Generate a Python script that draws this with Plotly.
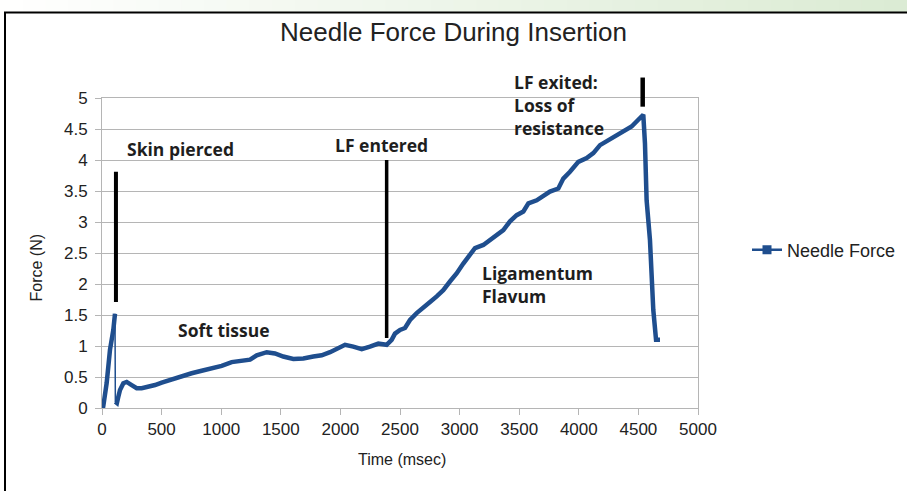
import plotly.graph_objects as go

# ---------------- data ----------------
time_ms = [0, 10, 39, 67, 95, 109, 112, 125, 137, 151, 179, 207, 249, 291, 333, 388, 445, 501,
           585, 669, 752, 836, 920, 1004, 1088, 1172, 1242, 1298, 1340, 1382, 1451, 1521, 1605,
           1689, 1773, 1843, 1913, 1969, 2039, 2108, 2179, 2248, 2318, 2388, 2430, 2458, 2500,
           2542, 2584, 2640, 2696, 2752, 2808, 2863, 2919, 2975, 3031, 3087, 3129, 3199, 3255,
           3311, 3367, 3423, 3479, 3535, 3577, 3647, 3674, 3758, 3828, 3870, 3926, 3996, 4066,
           4122, 4178, 4247, 4317, 4387, 4443, 4499, 4541, 4555, 4569, 4597, 4611, 4625, 4648,
           4681]
force_n = [0.00, 0.02, 0.40, 0.94, 1.26, 1.52, 0.10, 0.08, 0.18, 0.29, 0.40, 0.42, 0.37, 0.32,
           0.32, 0.34, 0.37, 0.41, 0.46, 0.52, 0.56, 0.60, 0.64, 0.68, 0.74, 0.77, 0.78, 0.85,
           0.88, 0.90, 0.88, 0.83, 0.79, 0.80, 0.83, 0.85, 0.90, 0.95, 1.02, 0.99, 0.95, 0.99,
           1.04, 1.02, 1.10, 1.20, 1.26, 1.29, 1.42, 1.53, 1.61, 1.71, 1.80, 1.90, 2.04, 2.17,
           2.33, 2.49, 2.58, 2.63, 2.71, 2.79, 2.87, 3.01, 3.11, 3.17, 3.30, 3.35, 3.38, 3.49,
           3.54, 3.70, 3.81, 3.97, 4.03, 4.11, 4.24, 4.32, 4.40, 4.48, 4.54, 4.65, 4.73, 4.27,
           3.35, 2.71, 2.17, 1.58, 1.10, 1.10]
pierce_index = 5  # sample at which the skin gives way (sparse sample gap follows)

series_name = "Needle Force"
chart_title = "Needle Force During Insertion"
x_title = "Time (msec)"
y_title = "Force (N)"
x_ticks = [0, 500, 1000, 1500, 2000, 2500, 3000, 3500, 4000, 4500, 5000]
y_ticks = [0, 0.5, 1, 1.5, 2, 2.5, 3, 3.5, 4, 4.5, 5]

# event markers (vertical bars)
event_x = [117, 2388, 4536]
event_y0 = [1.71, 1.13, 4.86]
event_y1 = [3.81, 4.00, 5.33]

# text labels
label_text = ["Skin pierced", "Soft tissue", "LF entered", "LF exited:<br>Loss of<br>resistance",
              "Ligamentum<br>Flavum"]
label_x = [193, 621, 1938, 3440, 3171]
label_y = [4.18, 1.26, 4.24, 4.88, 1.99]

# ---------------- figure ----------------
W, H = 907, 491
ML, MR, MT, MB = 102, 209, 98, 83
XMAX, YMAX = x_ticks[-1], y_ticks[-1]
LINE_COLOR = "#1f4e8e"
GRID = "#b5b5b5"
FONT = "Liberation Sans, Arial, sans-serif"

fig = go.Figure()
# thin connecting line through every sample
fig.add_trace(go.Scatter(x=time_ms, y=force_n, mode="lines", name=series_name,
                         line=dict(color=LINE_COLOR, width=1.5), showlegend=False,
                         hoverinfo="skip"))
# dense-sample (thick) appearance, broken across the sparse gap after skin puncture
thick_x = time_ms[:pierce_index + 1] + [None] + time_ms[pierce_index + 1:]
thick_y = force_n[:pierce_index + 1] + [None] + force_n[pierce_index + 1:]
fig.add_trace(go.Scatter(x=thick_x, y=thick_y, mode="lines", name=series_name,
                         line=dict(color=LINE_COLOR, width=4.5), showlegend=False,
                         connectgaps=False, hoverinfo="x+y"))
# legend entry (line + square marker)
fig.add_trace(go.Scatter(x=[None], y=[None], mode="lines+markers", name=series_name,
                         line=dict(color=LINE_COLOR, width=2.5),
                         marker=dict(symbol="square", size=9, color=LINE_COLOR)))


def px_to_paper_x(px):
    return (px - ML) / (W - ML - MR)


def py_to_paper_y(py):
    return (H - MB - py) / (H - MT - MB)


shapes = []
# gradient strip on top
steps = 40
c0 = (255, 255, 255)
c1 = (219, 235, 211)
for i in range(steps):
    t = (i + 0.5) / steps
    col = tuple(int(round(c0[k] + (c1[k] - c0[k]) * t)) for k in range(3))
    shapes.append(dict(type="rect", xref="paper", yref="paper",
                       x0=px_to_paper_x(W * i / steps), x1=px_to_paper_x(W * (i + 1) / steps + 1),
                       y0=py_to_paper_y(12), y1=py_to_paper_y(-2),
                       fillcolor="rgb(%d,%d,%d)" % col, line=dict(width=0), layer="below"))
# outer frame
shapes.append(dict(type="rect", xref="paper", yref="paper",
                   x0=px_to_paper_x(5), x1=px_to_paper_x(W + 20),
                   y0=py_to_paper_y(H + 20), y1=py_to_paper_y(12.5),
                   line=dict(color="black", width=2), fillcolor="rgba(0,0,0,0)", layer="above"))
# event bars
bar_w = [4, 3.5, 4.5]
for xv, y0, y1, bw in zip(event_x, event_y0, event_y1, bar_w):
    shapes.append(dict(type="line", xref="paper", yref="paper",
                       x0=xv / XMAX, x1=xv / XMAX, y0=y0 / YMAX, y1=y1 / YMAX,
                       line=dict(color="black", width=bw), layer="above"))

annotations = []
for t, xv, yv in zip(label_text, label_x, label_y):
    annotations.append(dict(x=xv, y=yv / YMAX, xref="x", yref="paper", text="<b>%s</b>" % t,
                            showarrow=False, xanchor="left", yanchor="middle", align="left",
                            font=dict(family="Open Sans, sans-serif", size=17.5, color="#1e1e1e")))
annotations.append(dict(x=px_to_paper_x(25), y=py_to_paper_y(268), xref="paper", yref="paper",
                        text=y_title, textangle=-90, showarrow=False,
                        font=dict(family=FONT, size=16, color="#222")))
annotations.append(dict(x=px_to_paper_x(402), y=py_to_paper_y(470), xref="paper", yref="paper",
                        text=x_title, showarrow=False,
                        font=dict(family=FONT, size=16, color="#222")))

fig.update_layout(
    width=W, height=H,
    margin=dict(l=ML, r=MR, t=MT, b=MB, autoexpand=False),
    paper_bgcolor="white", plot_bgcolor="white",
    title=dict(text=chart_title, x=0.5, xref="container", xanchor="center",
               y=1 - 32 / H, yanchor="middle",
               font=dict(family=FONT, size=26, color="#222")),
    showlegend=True,
    legend=dict(x=px_to_paper_x(747), y=py_to_paper_y(250), xanchor="left", yanchor="middle",
                font=dict(family=FONT, size=18, color="#222"), bgcolor="rgba(0,0,0,0)",
                itemwidth=30),
    shapes=shapes,
    annotations=annotations,
    xaxis=dict(range=[0, XMAX], tickvals=x_ticks, showgrid=False, zeroline=False,
               showline=True, linecolor=GRID, linewidth=1, mirror=True,
               ticks="outside", ticklen=6, tickcolor=GRID,
               tickfont=dict(family=FONT, size=17, color="#222")),
    yaxis=dict(range=[0, YMAX], tickvals=y_ticks, showgrid=True, gridcolor=GRID, gridwidth=1,
               zeroline=False, showline=True, linecolor=GRID, linewidth=1, mirror=True,
               ticks="outside", ticklen=6, tickcolor=GRID, ticklabelstandoff=4,
               tickfont=dict(family=FONT, size=17, color="#222")),
)

fig.write_html("out.html", config={"displayModeBar": False},
               post_script="document.body.style.margin='0';")
